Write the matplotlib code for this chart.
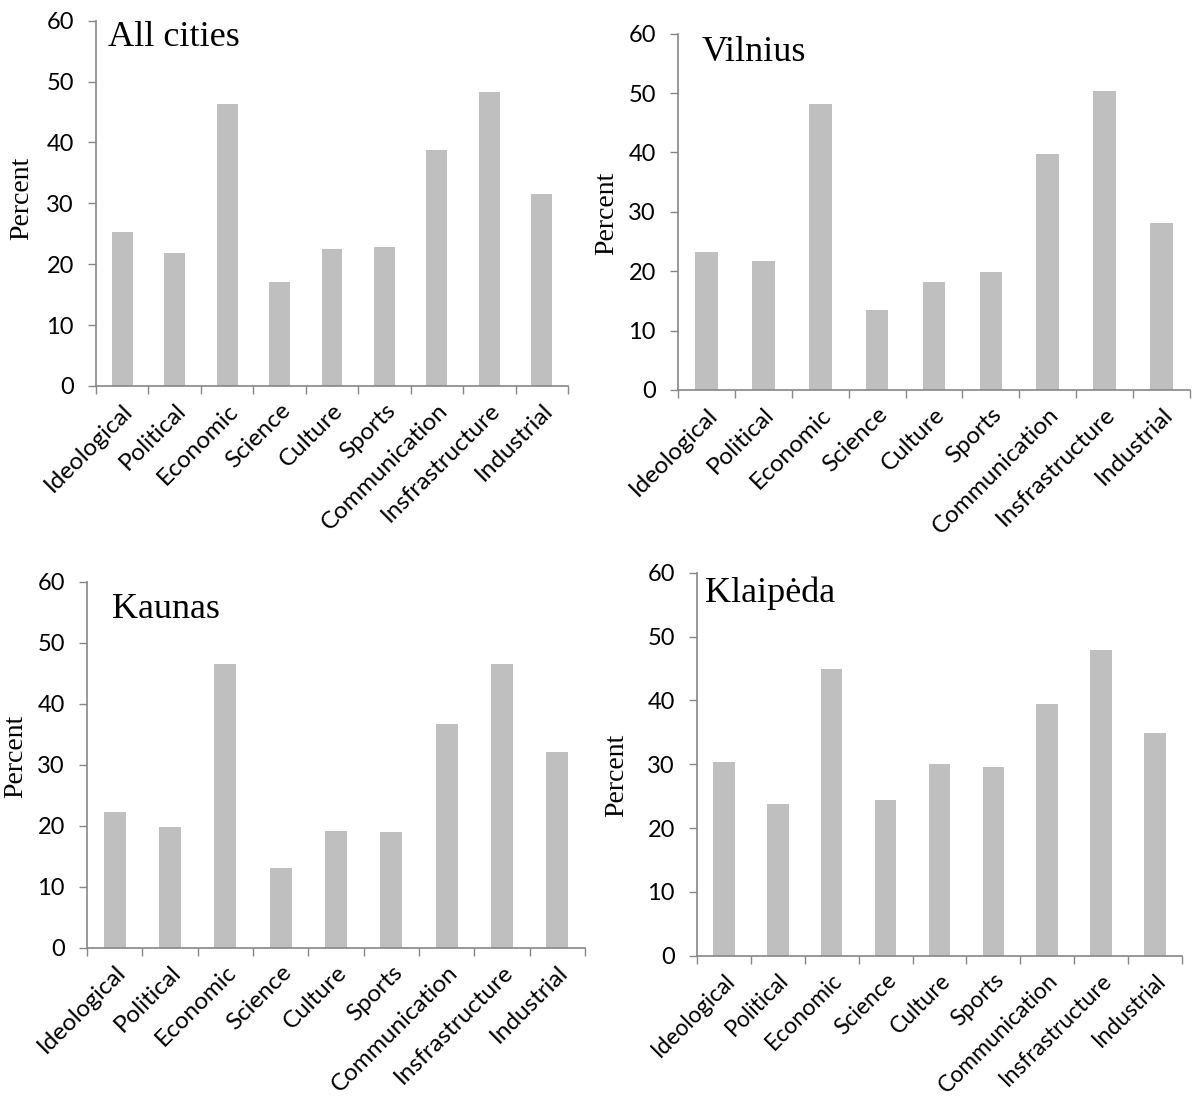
import numpy as np
import matplotlib.pyplot as plt

categories = ['Ideological', 'Political', 'Economic', 'Science', 'Culture',
              'Sports', 'Communication', 'Insfrastructure', 'Industrial']

all_cities = [25.3, 21.9, 46.3, 17.0, 22.5, 22.9, 38.7, 48.3, 31.6]
vilnius = [23.2, 21.8, 48.2, 13.4, 18.2, 19.9, 39.7, 50.3, 28.2]
kaunas = [22.2, 19.8, 46.5, 13.0, 19.2, 19.0, 36.7, 46.5, 32.1]
klaipeda = [30.4, 23.8, 44.9, 24.4, 30.0, 29.6, 39.4, 47.9, 34.9]

titles = ['All cities', 'Vilnius', 'Kaunas', 'Klaipėda']
series = [all_cities, vilnius, kaunas, klaipeda]

W, H = 1192, 1102
fig = plt.figure(figsize=(W / 100, H / 100), dpi=100)

# axes boxes in pixels: left, right, top(y=60), bottom(y=0)
boxes = [(96, 568, 20.7, 386), (678, 1190, 33.7, 390),
         (87, 585, 581.7, 947.7), (697, 1182, 572.7, 955.7)]
# title left/baseline and ylabel centre, pixels
title_pos = [(108, 46), (702, 61), (112, 618), (705, 602)]
ylab_pos = [(22, 198), (607, 213), (16, 756), (617, 775)]
xlab_size = [17.5, 17.5, 17.5, 16.5]

spine_col = '#868686'
bar_col = '#BFBFBF'

for vals, title, box, tp, yp, fs in zip(series, titles, boxes, title_pos, ylab_pos, xlab_size):
	l, r, t, b = box
	ax = fig.add_axes([l / W, 1 - b / H, (r - l) / W, (b - t) / H])
	x = np.arange(len(categories))
	ax.bar(x, vals, width=0.4, color=bar_col, zorder=2)
	ax.set_xlim(-0.5, len(categories) - 0.5)
	ax.set_ylim(0, 60)
	ax.set_yticks(range(0, 61, 10))
	ax.set_xticks(x)
	ax.set_xticklabels(categories, rotation=45, ha='right', rotation_mode='anchor',
	                   fontsize=fs, family='Lato')
	ax.set_xticks(np.arange(-0.5, len(categories)), minor=True)
	ax.tick_params(axis='x', which='major', length=0, pad=10)
	ax.tick_params(axis='x', which='minor', length=6, width=1, color=spine_col, direction='out')
	ax.tick_params(axis='y', length=6, width=1, color=spine_col, pad=10, labelsize=17)
	for lab in ax.get_yticklabels():
		lab.set_family('Lato')
	for s in ['top', 'right']:
		ax.spines[s].set_visible(False)
	for s in ['left', 'bottom']:
		ax.spines[s].set_color(spine_col)
		ax.spines[s].set_linewidth(1.2)
	fig.text(tp[0] / W, 1 - tp[1] / H, title, family='Liberation Serif', fontsize=26,
	         ha='left', va='baseline')
	fig.text(yp[0] / W, 1 - yp[1] / H, 'Percent', family='Liberation Serif', fontsize=20,
	         rotation=90, ha='center', va='center')

fig.savefig('out.png', dpi=100)
